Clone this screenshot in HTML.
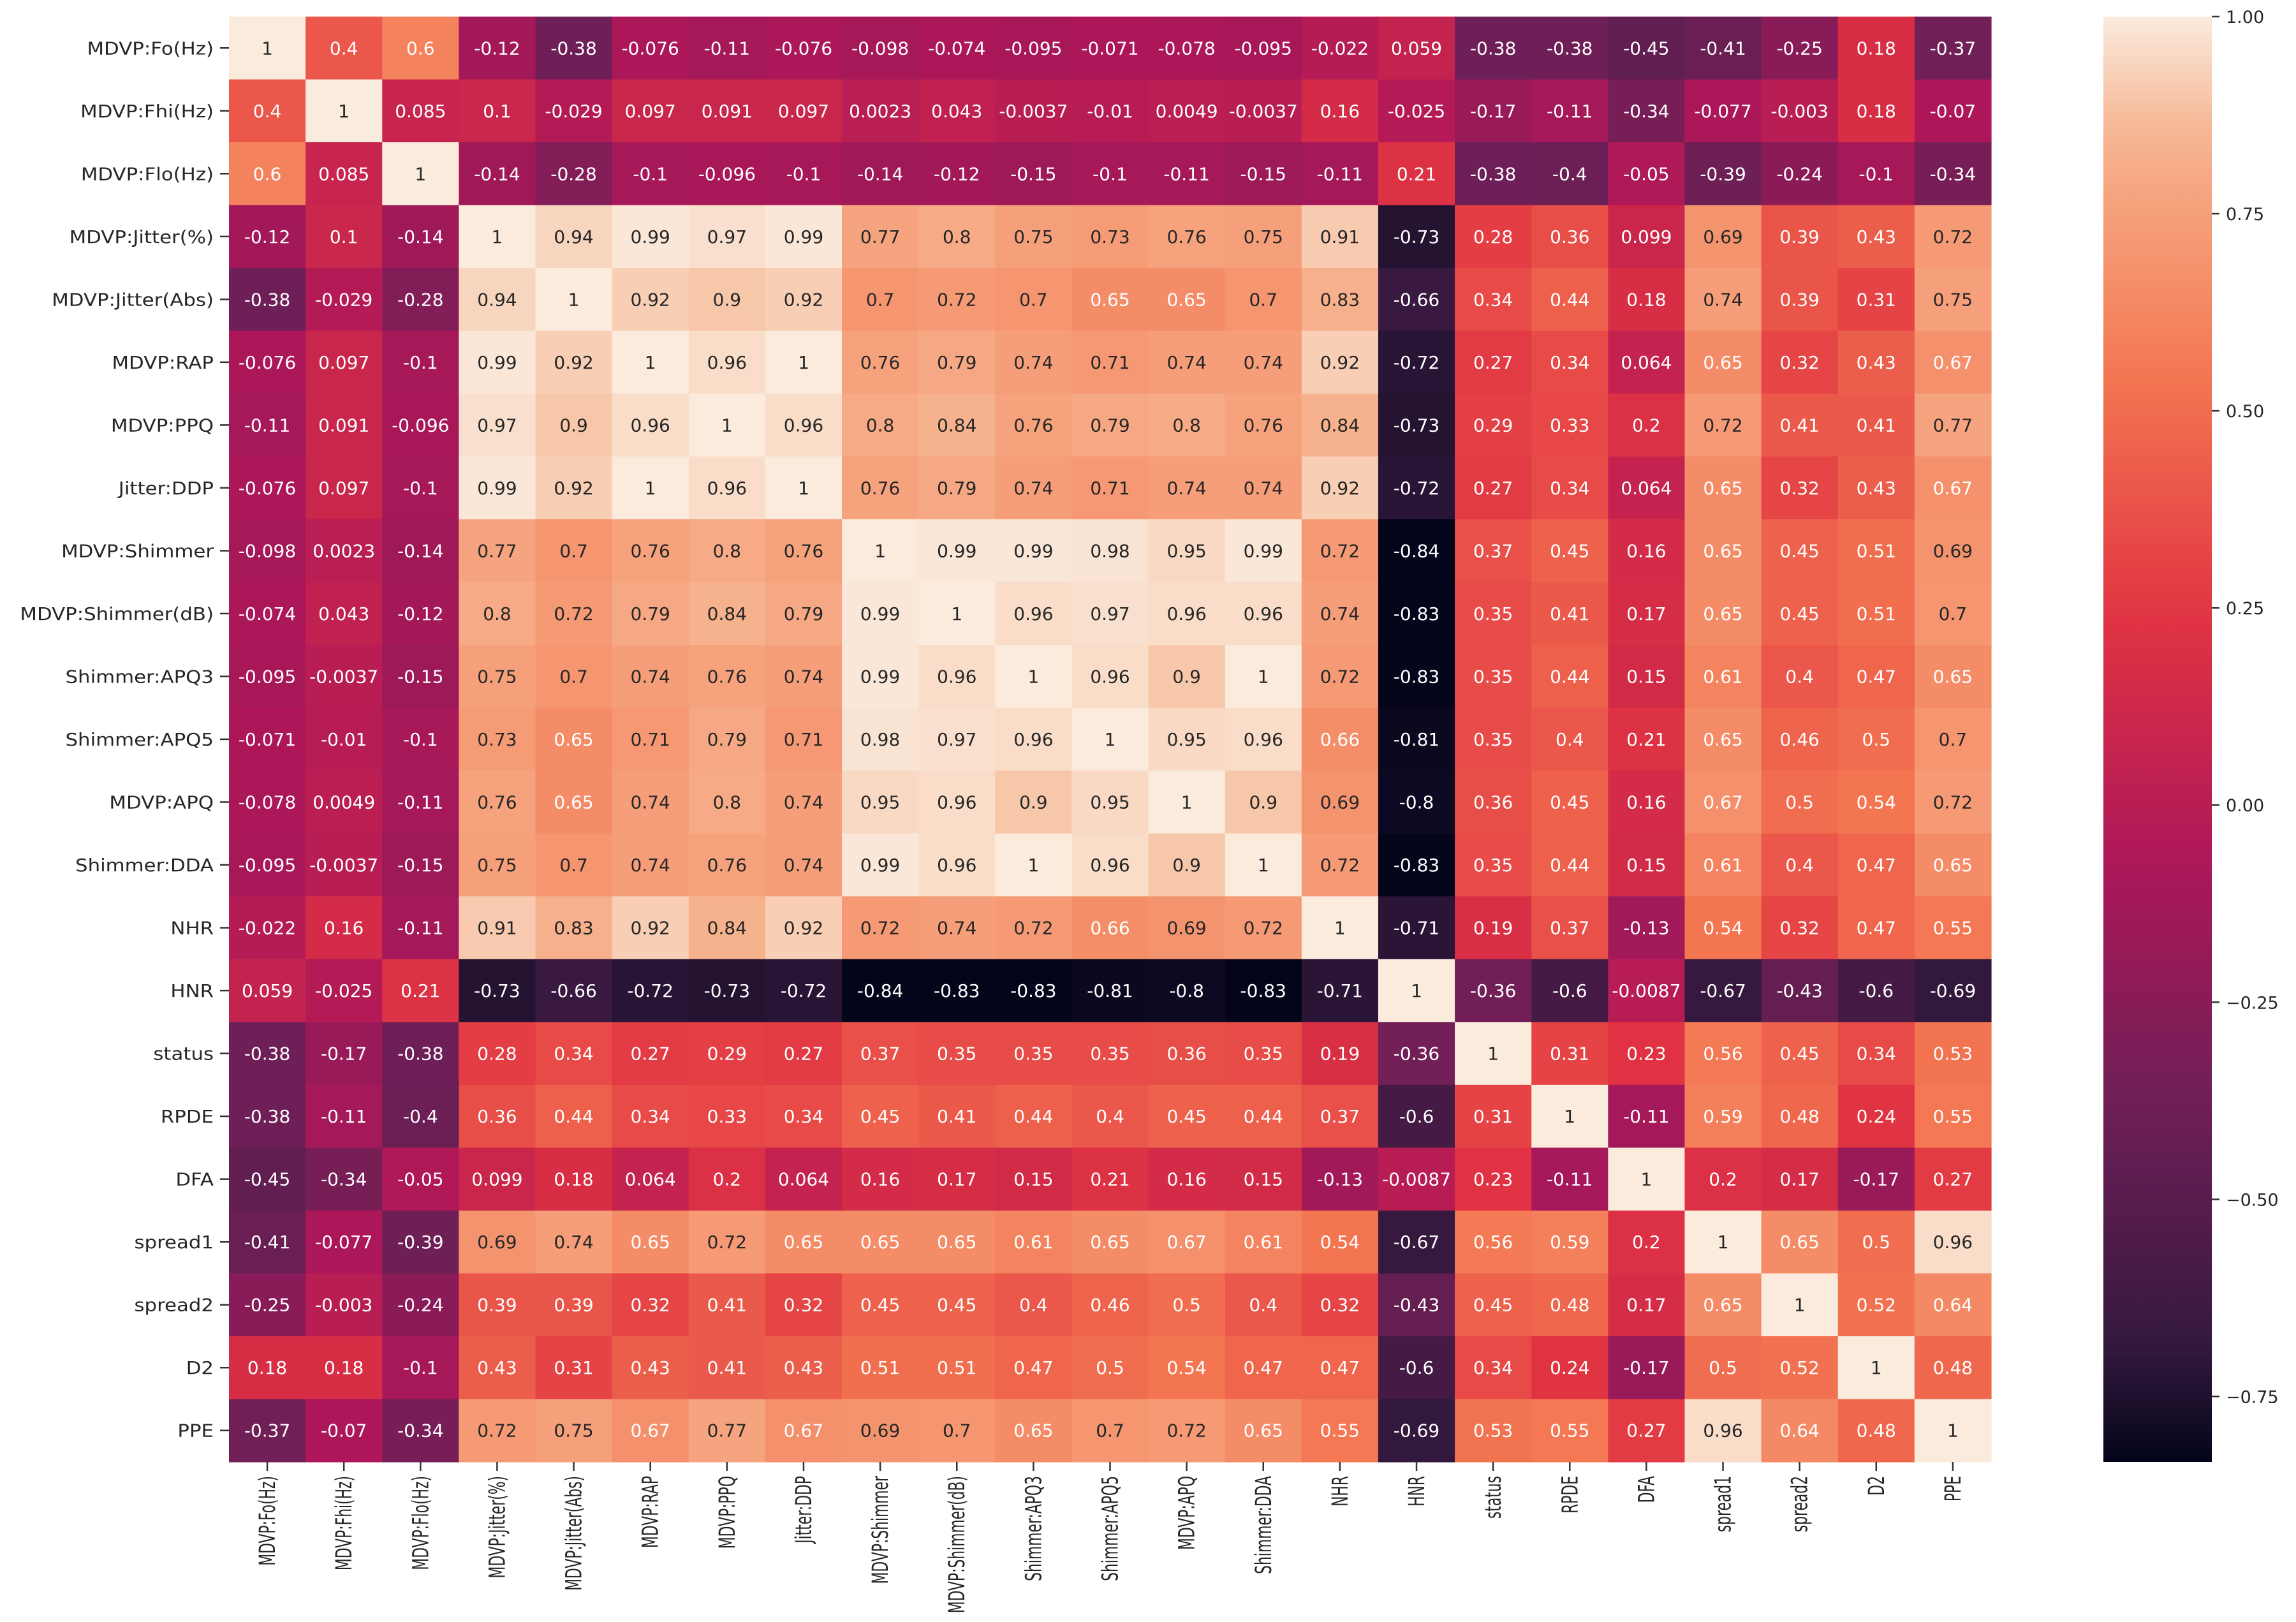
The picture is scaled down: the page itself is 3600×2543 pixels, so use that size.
<!DOCTYPE html>
<html><head><meta charset="utf-8">
<style>
html,body{margin:0;padding:0;background:#fff;}
svg{display:block;}
text{font-family:"DejaVu Sans","Liberation Sans",sans-serif;}
</style></head>
<body>
<svg id="chart" width="3600" height="2543" viewBox="0 0 3600 2543" xmlns="http://www.w3.org/2000/svg">
<defs>
<linearGradient id="rocketGrad" x1="0" y1="1" x2="0" y2="0"></linearGradient>
</defs>
<g id="cells"></g>
<g id="annots"></g>
<g id="yaxis"></g>
<g id="xaxis"></g>
<g id="cbar"></g>
</svg>
<script>
const labels = ["MDVP:Fo(Hz)","MDVP:Fhi(Hz)","MDVP:Flo(Hz)","MDVP:Jitter(%)","MDVP:Jitter(Abs)","MDVP:RAP","MDVP:PPQ","Jitter:DDP","MDVP:Shimmer","MDVP:Shimmer(dB)","Shimmer:APQ3","Shimmer:APQ5","MDVP:APQ","Shimmer:DDA","NHR","HNR","status","RPDE","DFA","spread1","spread2","D2","PPE"];
const r01 = [1,0.4,0.6,-0.12,-0.38,-0.076,-0.11,-0.076,-0.098,-0.074,-0.095,-0.071,-0.078,-0.095,-0.022,0.059,-0.38,-0.38,-0.45,-0.41,-0.25,0.18,-0.37];
const r02 = [0.4,1,0.085,0.1,-0.029,0.097,0.091,0.097,0.0023,0.043,-0.0037,-0.01,0.0049,-0.0037,0.16,-0.025,-0.17,-0.11,-0.34,-0.077,-0.003,0.18,-0.07];
const r03 = [0.6,0.085,1,-0.14,-0.28,-0.1,-0.096,-0.1,-0.14,-0.12,-0.15,-0.1,-0.11,-0.15,-0.11,0.21,-0.38,-0.4,-0.05,-0.39,-0.24,-0.1,-0.34];
const r04 = [-0.12,0.1,-0.14,1,0.94,0.99,0.97,0.99,0.77,0.8,0.75,0.73,0.76,0.75,0.91,-0.73,0.28,0.36,0.099,0.69,0.39,0.43,0.72];
const r05 = [-0.38,-0.029,-0.28,0.94,1,0.92,0.9,0.92,0.7,0.72,0.7,0.65,0.65,0.7,0.83,-0.66,0.34,0.44,0.18,0.74,0.39,0.31,0.75];
const r06 = [-0.076,0.097,-0.1,0.99,0.92,1,0.96,1,0.76,0.79,0.74,0.71,0.74,0.74,0.92,-0.72,0.27,0.34,0.064,0.65,0.32,0.43,0.67];
const r07 = [-0.11,0.091,-0.096,0.97,0.9,0.96,1,0.96,0.8,0.84,0.76,0.79,0.8,0.76,0.84,-0.73,0.29,0.33,0.2,0.72,0.41,0.41,0.77];
const r08 = [-0.076,0.097,-0.1,0.99,0.92,1,0.96,1,0.76,0.79,0.74,0.71,0.74,0.74,0.92,-0.72,0.27,0.34,0.064,0.65,0.32,0.43,0.67];
const r09 = [-0.098,0.0023,-0.14,0.77,0.7,0.76,0.8,0.76,1,0.99,0.99,0.98,0.95,0.99,0.72,-0.84,0.37,0.45,0.16,0.65,0.45,0.51,0.69];
const r10 = [-0.074,0.043,-0.12,0.8,0.72,0.79,0.84,0.79,0.99,1,0.96,0.97,0.96,0.96,0.74,-0.83,0.35,0.41,0.17,0.65,0.45,0.51,0.7];
const r11 = [-0.095,-0.0037,-0.15,0.75,0.7,0.74,0.76,0.74,0.99,0.96,1,0.96,0.9,1,0.72,-0.83,0.35,0.44,0.15,0.61,0.4,0.47,0.65];
const r12 = [-0.071,-0.01,-0.1,0.73,0.65,0.71,0.79,0.71,0.98,0.97,0.96,1,0.95,0.96,0.66,-0.81,0.35,0.4,0.21,0.65,0.46,0.5,0.7];
const r13 = [-0.078,0.0049,-0.11,0.76,0.65,0.74,0.8,0.74,0.95,0.96,0.9,0.95,1,0.9,0.69,-0.8,0.36,0.45,0.16,0.67,0.5,0.54,0.72];
const r14 = [-0.095,-0.0037,-0.15,0.75,0.7,0.74,0.76,0.74,0.99,0.96,1,0.96,0.9,1,0.72,-0.83,0.35,0.44,0.15,0.61,0.4,0.47,0.65];
const r15 = [-0.022,0.16,-0.11,0.91,0.83,0.92,0.84,0.92,0.72,0.74,0.72,0.66,0.69,0.72,1,-0.71,0.19,0.37,-0.13,0.54,0.32,0.47,0.55];
const r16 = [0.059,-0.025,0.21,-0.73,-0.66,-0.72,-0.73,-0.72,-0.84,-0.83,-0.83,-0.81,-0.8,-0.83,-0.71,1,-0.36,-0.6,-0.0087,-0.67,-0.43,-0.6,-0.69];
const r17 = [-0.38,-0.17,-0.38,0.28,0.34,0.27,0.29,0.27,0.37,0.35,0.35,0.35,0.36,0.35,0.19,-0.36,1,0.31,0.23,0.56,0.45,0.34,0.53];
const r18 = [-0.38,-0.11,-0.4,0.36,0.44,0.34,0.33,0.34,0.45,0.41,0.44,0.4,0.45,0.44,0.37,-0.6,0.31,1,-0.11,0.59,0.48,0.24,0.55];
const r19 = [-0.45,-0.34,-0.05,0.099,0.18,0.064,0.2,0.064,0.16,0.17,0.15,0.21,0.16,0.15,-0.13,-0.0087,0.23,-0.11,1,0.2,0.17,-0.17,0.27];
const r20 = [-0.41,-0.077,-0.39,0.69,0.74,0.65,0.72,0.65,0.65,0.65,0.61,0.65,0.67,0.61,0.54,-0.67,0.56,0.59,0.2,1,0.65,0.5,0.96];
const r21 = [-0.25,-0.003,-0.24,0.39,0.39,0.32,0.41,0.32,0.45,0.45,0.4,0.46,0.5,0.4,0.32,-0.43,0.45,0.48,0.17,0.65,1,0.52,0.64];
const r22 = [0.18,0.18,-0.1,0.43,0.31,0.43,0.41,0.43,0.51,0.51,0.47,0.5,0.54,0.47,0.47,-0.6,0.34,0.24,-0.17,0.5,0.52,1,0.48];
const r23 = [-0.37,-0.07,-0.34,0.72,0.75,0.67,0.77,0.67,0.69,0.7,0.65,0.7,0.72,0.65,0.55,-0.69,0.53,0.55,0.27,0.96,0.64,0.48,1];
const cbarTicks = [1.0,0.75,0.5,0.25,0,-0.25,-0.5,-0.75];
const cbarTickLabels = ["1.00","0.75","0.50","0.25","0.00","\u22120.25","\u22120.50","\u22120.75"];
const vmin = -0.833, vmax = 1.0;

const matrix = [r01,r02,r03,r04,r05,r06,r07,r08,r09,r10,r11,r12,r13,r14,r15,r16,r17,r18,r19,r20,r21,r22,r23];

const X0 = 359, X1 = 3122, Y0 = 26, Y1 = 2292;
const n = labels.length;
const cw = (X1 - X0) / n, ch = (Y1 - Y0) / n;
const xPos = i => X0 + i * cw;
const yPos = j => Y0 + j * ch;
const CB_X0 = 3298, CB_X1 = 3468;
const cbY = v => Y0 + (vmax - v) / (vmax - vmin) * (Y1 - Y0);

const stops = [[0,[3,5,26]],[0.083,[53,25,62]],[0.25,[112,31,87]],[0.417,[173,23,89]],[0.583,[225,51,66]],[0.75,[243,118,81]],[0.917,[246,180,143]],[1,[250,235,221]]];
function rocket(t){
  t = Math.max(0, Math.min(1, t));
  for (let k = 1; k < stops.length; k++){
    if (t <= stops[k][0]){
      const [a, ca] = stops[k-1], [b, cb] = stops[k];
      const f = (t - a) / (b - a);
      return ca.map((c, i) => Math.round(c + (cb[i] - c) * f));
    }
  }
  return stops[stops.length-1][1];
}
const rgb = c => `rgb(${c[0]},${c[1]},${c[2]})`;
function lum(c){
  const l = c.map(v => { v /= 255; return v <= 0.03928 ? v/12.92 : Math.pow((v+0.055)/1.055, 2.4); });
  return 0.2126*l[0] + 0.7152*l[1] + 0.0722*l[2];
}
const NS = "http://www.w3.org/2000/svg";
function mk(tag, attrs, parent){
  const e = document.createElementNS(NS, tag);
  for (const k in attrs) e.setAttribute(k, attrs[k]);
  parent.appendChild(e);
  return e;
}

const gCells = document.getElementById('cells');
const gAnn = document.getElementById('annots');
matrix.forEach((row, j) => {
  row.forEach((v, i) => {
    const c = rocket((v - vmin) / (vmax - vmin));
    const r = mk('rect', {x: xPos(i), y: yPos(j), width: cw + 0.6, height: ch + 0.6, fill: rgb(c)}, gCells);
    
    
    const t = mk('text', {x: xPos(i) + cw/2, y: yPos(j) + ch/2 + 10, 'text-anchor': 'middle', 'font-size': 28, fill: lum(c) > 0.408 ? '#262626' : '#ffffff'}, gAnn);
    t.textContent = String(v);
    
    
  });
});

const gY = document.getElementById('yaxis');
const gX = document.getElementById('xaxis');
labels.forEach((lab, j) => {
  const yc = yPos(j) + ch/2;
  mk('line', {x1: X0 - 14, x2: X0, y1: yc, y2: yc, stroke: '#333', 'stroke-width': 2.5}, gY);
  const t = mk('text', {x: 0, y: 0, 'text-anchor': 'end', 'font-size': 28, fill: '#262626', transform: `translate(${X0 - 24},${yc + 10}) scale(1.1,1)`}, gY);
  t.textContent = lab;
  
  
});
labels.forEach((lab, i) => {
  const xc = xPos(i) + cw/2;
  mk('line', {x1: xc, x2: xc, y1: Y1, y2: Y1 + 14, stroke: '#333', 'stroke-width': 2.5}, gX);
  const t = mk('text', {x: 0, y: 0, 'text-anchor': 'end', 'font-size': 28, fill: '#262626', transform: `translate(${xc + 12},${Y1 + 22}) rotate(-90) scale(0.78,1.25)`}, gX);
  t.textContent = lab;
  
  
});

const grad = document.getElementById('rocketGrad');
for (let k = 0; k <= 40; k++){
  const t = k / 40;
  mk('stop', {offset: t, 'stop-color': rgb(rocket(t))}, grad);
}
const gCb = document.getElementById('cbar');
const cbRect = mk('rect', {x: CB_X0, y: Y0, width: CB_X1 - CB_X0, height: Y1 - Y0, fill: 'url(#rocketGrad)'}, gCb);


cbarTicks.forEach((v, k) => {
  const y = cbY(v);
  mk('line', {x1: CB_X1, x2: CB_X1 + 12, y1: y, y2: y, stroke: '#333', 'stroke-width': 2.5}, gCb);
  const t = mk('text', {x: CB_X1 + 22, y: y + 10, 'font-size': 27, fill: '#262626'}, gCb);
  t.textContent = cbarTickLabels[k];
  
  
});
</script>
</body></html>
